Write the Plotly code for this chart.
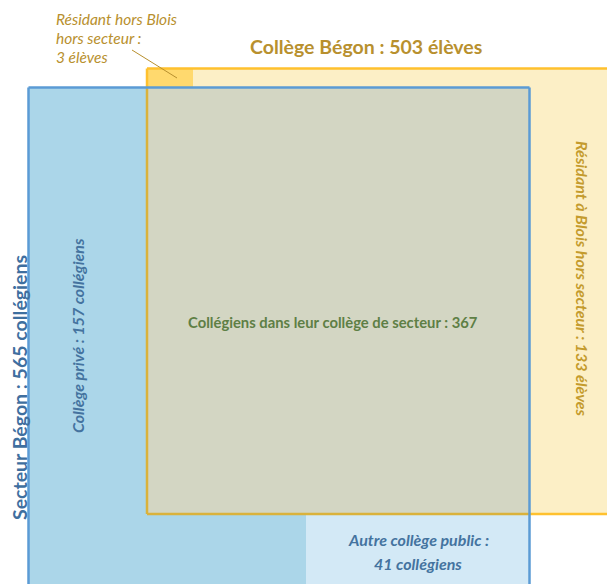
import plotly.graph_objects as go

# ---- data (counts) ----
secteur_label = "Secteur Bégon"
secteur_total = 565
college_label = "Collège Bégon"
college_total = 503
in_sector_label = "Collégiens dans leur collège de secteur"
in_sector = 367
private_label = "Collège privé"
private_count = 157
other_public_label = "Autre collège public"
other_public_count = 41
blois_out_label = "Résidant à Blois hors secteur"
blois_out_count = 133
outside_blois_label = "Résidant hors Blois"
outside_blois_count = 3

# ---- layout geometry (page pixels in a 615x584 window; page body has 8px margin) ----
W, H = 615, 584
OFF = 8
BLUE_BOX = (28.5, 87.5, 529.5, 600)     # x0, y0, x1, y1
YELLOW_BOX = (147, 68.5, 630, 514)
SMALL_BOX = (147, 68.5, 193, 87.5)
SPLIT_X = 306

GOLD = "#B8902E"
BLUE_TXT = "#44739F"
GREEN_TXT = "#5E7F45"
FONT = "Lato, 'Open Sans', sans-serif"

fig = go.Figure()
fig.add_trace(go.Scatter(x=[], y=[], showlegend=False))

def rect(x0, y0, x1, y1, fill):
    fig.add_shape(type="rect", xref="x", yref="y", x0=x0, y0=y0, x1=x1, y1=y1,
                  fillcolor=fill, line=dict(width=0, color=fill), layer="below")

def seg(x0, y0, x1, y1, color, width):
    fig.add_shape(type="line", xref="x", yref="y", x0=x0, y0=y0, x1=x1, y1=y1,
                  line=dict(color=color, width=width), layer="below")

bx0, by0, bx1, by1 = BLUE_BOX
yx0, yy0, yx1, yy1 = YELLOW_BOX

# fills
rect(yx0, yy0, yx1, yy1, "#FCEFC6")
rect(bx0, by0, bx1, by1, "#ABD6E9")
rect(yx0, by0, bx1, yy1, "#D3D6C3")
rect(SPLIT_X, yy1, bx1, by1, "#D3E9F6")
rect(*SMALL_BOX, "#FFD96E")

# yellow border
seg(yx0, yy0, yx1, yy0, "#FFC12E", 2.5)
seg(yx0, yy0, yx0, by0, "#FFC12E", 2.5)
seg(yx0, by0, yx0, yy1, "#DAB23B", 2.5)
seg(yx0, yy1, bx1, yy1, "#DAB23B", 2.5)
seg(bx1, yy1, yx1, yy1, "#FFC12E", 2.5)

# blue border
seg(bx0, by0, bx1, by0, "#5B9BD5", 2.5)
seg(bx0, by0, bx0, by1, "#5B9BD5", 2.5)
seg(bx1, by0, bx1, by1, "#5B9BD5", 2.5)

# leader line
seg(132, 50, 177, 78, GOLD, 1)

def note(x, y, text, color, size, bold=False, italic=False, angle=0, align="center",
         xanchor="center", pad=1):
    fig.add_annotation(x=x, y=y, xref="x", yref="y", text=text, showarrow=False,
                       textangle=angle, align=align, xanchor=xanchor, yanchor="middle",
                       borderpad=pad,
                       font=dict(family=FONT, size=size, color=color,
                                 weight="bold" if bold else "normal",
                                 style="italic" if italic else "normal"))

note(366, 46, f"{college_label} : {college_total} élèves", GOLD, 19.5, bold=True)
note(54, 19, f"{outside_blois_label}", GOLD, 15.5, italic=True, xanchor="left")
note(54, 38, "hors secteur :", GOLD, 15.5, italic=True, xanchor="left")
note(54, 57, f"{outside_blois_count} élèves", GOLD, 15.5, italic=True, xanchor="left")
note(19, 388, f"{secteur_label} : {secteur_total} collégiens", "#3F6F9F", 19.5, bold=True,
     angle=-90, pad=0)
note(77, 336, f"{private_label} : {private_count} collégiens", BLUE_TXT, 16, bold=True, italic=True, angle=-90)
note(333, 322, f"{in_sector_label} : {in_sector}", GREEN_TXT, 14.8, bold=True)
note(583, 279, f"{blois_out_label} : {blois_out_count} élèves", "#C49B2D", 16, bold=True, italic=True, angle=90)
note(418, 539, f"{other_public_label} :", BLUE_TXT, 16, bold=True, italic=True)
note(418, 563, f"{other_public_count} collégiens", BLUE_TXT, 16, bold=True, italic=True)

fig.update_layout(
    width=W - OFF, height=H - OFF, margin=dict(l=0, r=0, t=0, b=0),
    paper_bgcolor="white", plot_bgcolor="white",
    xaxis=dict(range=[OFF, W], visible=False, fixedrange=True),
    yaxis=dict(range=[H, OFF], visible=False, fixedrange=True),
    showlegend=False,
)

fig.write_html("out.html", config={"displayModeBar": False})
